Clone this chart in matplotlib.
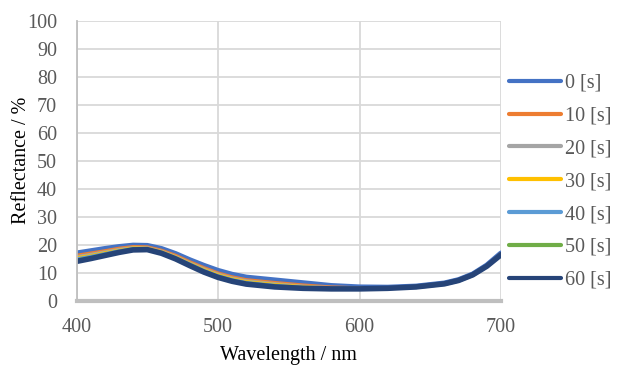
import matplotlib.pyplot as plt

plt.rcParams['font.family'] = ['Liberation Serif', 'DejaVu Serif']

# 波长 (nm)
wl = [400, 410, 420, 430, 440, 450, 460, 470, 480, 490, 500, 510, 520,
      540, 560, 580, 600, 620, 640, 660, 670, 680, 690, 700]

# 各时间的反射率 (%)
r0 = [17.0, 17.8, 18.6, 19.3, 19.8, 19.7, 18.6, 16.8, 14.6, 12.6, 10.8, 9.4, 8.4,
      7.4, 6.4, 5.4, 4.9, 4.8, 5.2, 6.3, 7.5, 9.5, 12.7, 17.0]
r10 = [16.3, 17.1, 17.9, 18.8, 19.4, 19.3, 18.1, 16.3, 14.0, 11.9, 10.0, 8.6, 7.6,
       6.6, 5.7, 5.0, 4.7, 4.7, 5.1, 6.2, 7.4, 9.4, 12.6, 16.9]
r20 = [15.8, 16.6, 17.5, 18.4, 19.1, 19.0, 17.8, 15.9, 13.6, 11.5, 9.6, 8.2, 7.2,
       6.2, 5.3, 4.8, 4.6, 4.6, 5.1, 6.2, 7.4, 9.4, 12.5, 16.8]
r30 = [15.4, 16.2, 17.2, 18.1, 18.9, 18.8, 17.6, 15.7, 13.4, 11.2, 9.3, 7.9, 6.9,
       5.9, 5.1, 4.6, 4.5, 4.6, 5.0, 6.2, 7.4, 9.4, 12.5, 16.8]
r40 = [15.0, 15.9, 16.9, 17.9, 18.7, 18.6, 17.4, 15.5, 13.2, 10.9, 9.0, 7.6, 6.6,
       5.6, 4.9, 4.5, 4.4, 4.5, 5.0, 6.1, 7.3, 9.3, 12.5, 16.7]
r50 = [14.6, 15.5, 16.6, 17.6, 18.5, 18.5, 17.2, 15.2, 12.9, 10.6, 8.7, 7.3, 6.3,
       5.3, 4.7, 4.4, 4.4, 4.5, 5.0, 6.1, 7.3, 9.3, 12.4, 16.6]
r60 = [14.1, 15.1, 16.2, 17.3, 18.2, 18.3, 17.0, 15.0, 12.6, 10.3, 8.4, 7.0, 6.0,
       5.0, 4.5, 4.3, 4.3, 4.5, 5.0, 6.1, 7.3, 9.3, 12.4, 16.5]

labels = ['0 [s]', '10 [s]', '20 [s]', '30 [s]', '40 [s]', '50 [s]', '60 [s]']
series = [r0, r10, r20, r30, r40, r50, r60]
colors = ['#4472C4', '#ED7D31', '#A5A5A5', '#FFC000', '#5B9BD5', '#70AD47', '#264478']
widths = [4.0, 2.2, 2.2, 2.2, 2.2, 2.2, 4.0]

fs = 14.5

fig = plt.figure(figsize=(6.17, 3.67), dpi=100)
ax = fig.add_axes([0.124, 0.180, 0.688, 0.764])

for y, c, lw, lab in zip(series, colors, widths, labels):
    ax.plot(wl, y, color=c, linewidth=lw, label=lab,
            solid_capstyle='round', solid_joinstyle='round')

ax.set_xlim(400, 700)
ax.set_ylim(0, 100)
ax.set_xticks([400, 500, 600, 700])
ax.set_yticks(range(0, 101, 10))
ax.grid(True, color='#D9D9D9', linewidth=1.3)
ax.set_axisbelow(True)
ax.tick_params(length=0, labelsize=fs, labelcolor='#595959')
ax.tick_params(axis='x', pad=12)
ax.tick_params(axis='y', pad=14)

for s in ['top', 'right']:
    ax.spines[s].set_visible(False)
ax.spines['left'].set_color('#BFBFBF')
ax.spines['left'].set_linewidth(1.3)
ax.spines['bottom'].set_color('#BFBFBF')
ax.spines['bottom'].set_linewidth(3)

ax.set_xlabel('Wavelength / nm', fontsize=fs, labelpad=7)
ax.set_ylabel('Reflectance / %', fontsize=fs, labelpad=-3)

leg = ax.legend(loc='center left', bbox_to_anchor=(1.019, 0.425), frameon=False,
                fontsize=fs, handlelength=2.6, handletextpad=0.2, labelspacing=0.68,
                borderaxespad=0, borderpad=0)
for t in leg.get_texts():
    t.set_color('#595959')
for h in leg.get_lines():
    h.set_linewidth(3)

fig.savefig('out.png', dpi=100)
